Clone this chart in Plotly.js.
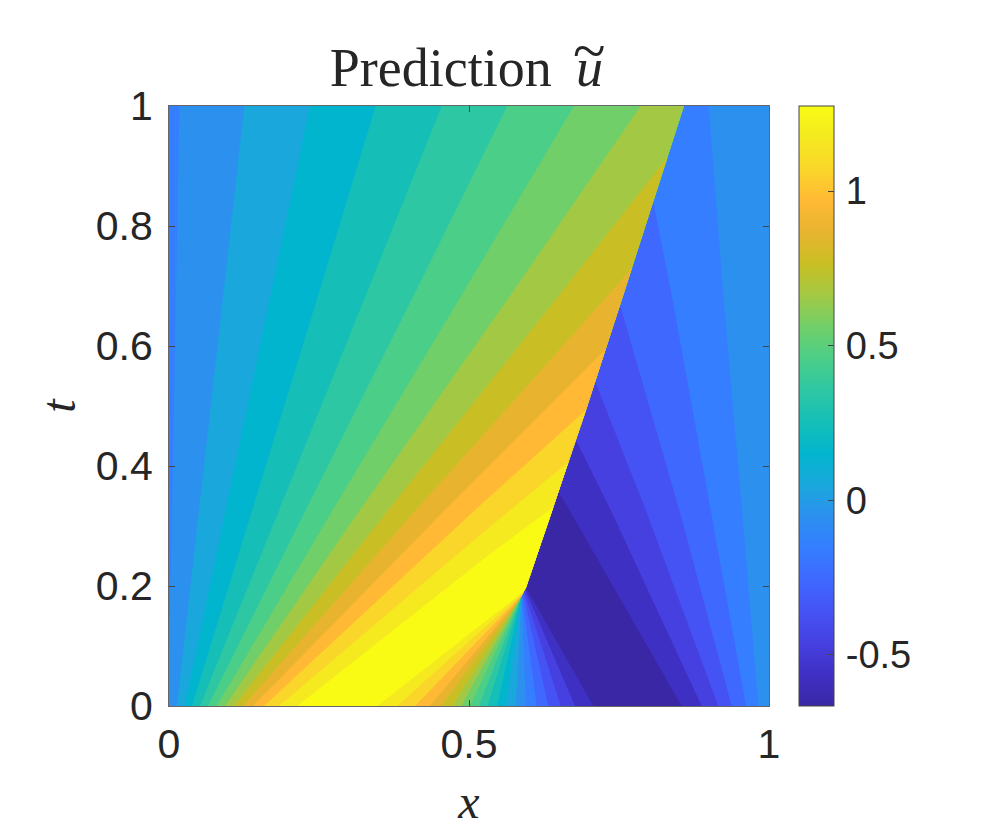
<!DOCTYPE html>
<html><head><meta charset="utf-8">
<script src="https://cdn.plot.ly/plotly-3.0.1.min.js"></script>
<style>html,body{margin:0;padding:0;background:#fff}</style></head>
<body><div id="chart" style="width:997px;height:832px"></div>
<script>
// Band values, ascending (contour levels of the prediction) and their colours
const bandLevels = [-0.616,-0.519,-0.422,-0.325,-0.228,-0.131,-0.034,0.063,0.16,0.257,0.354,0.451,0.548,0.645,0.742,0.839,0.936,1.033,1.13,1.227];
const bandColors = ['#3A27A6','#3F30C4','#4640E0','#4553F5','#3F68FF','#347EFF','#2C90EF','#1AA8DC','#02B5CE','#15BFB7','#2EC7A4','#4BCE88','#70CF69','#A3C944','#C9BF24','#E8B430','#FFB934','#FAD62A','#F5E91F','#F9FB15'];
const levelRange = [-0.665, 1.275];

// Shock curve from the top of the plot down to the fan apex: [x, t]
const shock = [[0.8583,1],[0.76,0.6933],[0.695,0.4933],[0.635,0.315],[0.595,0.1975],[0.5867,0.1817]];

// Contours left of the shock (boundary between band k and k+1), bottom to top; null where absent
const leftRays = [null,null,null,null,null,
 [[0,0.0933],[0.005,0.3267],[0.0117,0.685],[0.0172,1]],
 [[0.0133,0],[0.0505,0.3267],[0.0905,0.685],[0.1255,1]],
 [[0.0262,0],[0.0945,0.3267],[0.1695,0.685],[0.235,1]],
 [[0.0383,0],[0.1388,0.3267],[0.2488,0.685],[0.3445,1]],
 [[0.0517,0],[0.1838,0.3267],[0.3283,0.685],[0.4545,1]],
 [[0.065,0],[0.2278,0.3267],[0.4083,0.685],[0.5638,1]],
 [[0.0795,0],[0.2728,0.3267],[0.4878,0.685],[0.675,1]],
 [[0.0933,0],[0.3183,0.3267],[0.5695,0.685],[0.7862,1]],
 [[0.1083,0],[0.3655,0.3267],[0.6505,0.685],[0.8312,0.9155]],
 [[0.1233,0],[0.4117,0.3267],[0.7322,0.685],[0.7717,0.73]],
 [[0.14,0],[0.46,0.3267],[0.7278,0.5945]],
 [[0.1583,0],[0.51,0.3267],[0.695,0.4933]],
 [[0.1833,0],[0.5183,0.285],[0.666,0.4072]],
 [[0.2138,0],[0.5183,0.2405],[0.6407,0.3317]]];

// Fan contours below the apex: x where each meets t=0, and its [x,t] end on the shock
const fanBottom = [0.7072,0.6767,0.6528,0.6322,0.6128,0.595,0.5783,0.5617,0.5467,0.5308,0.5167,0.5017,0.4867,0.4717,0.4533,0.435,0.41,0.38,0.3472];
const fanEnd = [[0.595,0.1975],[0.5933,0.195],[0.5917,0.1917],[0.59,0.1883],[0.5883,0.185],[0.5875,0.1833],
 [0.5872,0.1825],[0.5872,0.1825],[0.5872,0.1825],[0.5872,0.1825],[0.5872,0.1825],[0.5872,0.1825],[0.5872,0.1825],[0.5872,0.1825],[0.5872,0.1825],[0.5872,0.1825],
 [0.5883,0.185],[0.5892,0.1875],[0.5905,0.1905]];

// Contours right of the shock, top to bottom
const rightRays = [
 [[0.6492,0.3572],[0.6672,0.3267],[0.8545,0]],
 [[0.6782,0.4433],[0.7362,0.3267],[0.8878,0]],
 [[0.7103,0.5405],[0.7945,0.3267],[0.9155,0]],
 [[0.7518,0.6683],[0.8505,0.3267],[0.9378,0]],
 [[0.8072,0.8405],[0.8378,0.685],[0.9028,0.3267],[0.9617,0]],
 [[0.8995,1],[0.9238,0.685],[0.955,0.3267],[0.9822,0]]];

const xTicks = [0,0.5,1];
const tTicks = [0,0.2,0.4,0.6,0.8,1];
const barTicks = [-0.5,0,0.5,1];

function shockBetween(tHigh, tLow){ return shock.filter(p => p[1] < tHigh && p[1] > tLow); }

function leftRegion(k){
  const ray = leftRays[k], end = fanEnd[k];
  let pts = [];
  if (!ray) pts.push([0,0],[0,1],shock[0]);
  else {
    if (ray[0][1] > 0) pts.push([0,0]);
    pts.push(...ray);
    if (ray[ray.length-1][1] >= 1) pts.push(shock[0]);
  }
  const topT = pts[pts.length-1][1];
  pts.push(...shockBetween(topT, end[1]), end, [fanBottom[k],0]);
  return pts;
}
function rightRegion(k){
  const ray = rightRays[k];
  if (!ray) return null;
  const pts = [...ray, [1,0], [1,1]];
  if (ray[0][1] < 1) pts.push(shock[0], ...shockBetween(1, ray[0][1]));
  return pts;
}
function poly(pts, color){
  return {type:'scatter', mode:'lines', x:pts.map(p=>p[0]), y:pts.map(p=>p[1]),
    fill:'toself', fillcolor:color, line:{width:0, color:color}, hoverinfo:'skip', showlegend:false};
}

const traces = [poly([[0,0],[1,0],[1,1],[0,1]], bandColors[0])];
for (let k = 0; k < fanBottom.length; k++){
  traces.push(poly(leftRegion(k), bandColors[k+1]));
  const r = rightRegion(k);
  if (r) traces.push(poly(r, bandColors[k+1]));
}
const cscale = bandColors.map((c,i)=>[i/(bandColors.length-1), c]);
traces.push({type:'scatter', mode:'markers', x:bandLevels.map(()=>0.5), y:bandLevels.map(()=>0.5),
  hoverinfo:'skip', showlegend:false,
  marker:{size:1, opacity:0, color:bandLevels, cmin:levelRange[0], cmax:levelRange[1], colorscale:cscale,
    showscale:true,
    colorbar:{x:1.05, xanchor:'left', xpad:0, y:0.5, yanchor:'middle', ypad:0, len:1, lenmode:'fraction',
      thickness:35, thicknessmode:'pixels', outlinecolor:'#444', outlinewidth:1,
      tickmode:'array', tickvals:barTicks, ticktext:barTicks.map(v=>'\u200a'+v), ticks:'inside', ticklen:6, tickcolor:'#444',
      tickfont:{family:'Liberation Sans', size:38, color:'#262626'}}}});

const ax = {range:[0,1], showgrid:false, zeroline:false, showline:true, linecolor:'#666', linewidth:1,
  mirror:'ticks', ticks:'inside', ticklen:6, tickcolor:'#444', tickwidth:1,
  tickfont:{family:'Liberation Sans', size:41, color:'#262626'}};
const layout = {
  width:997, height:832, margin:{l:169,r:228,t:106,b:126}, paper_bgcolor:'#fff', plot_bgcolor:'#fff',
  title:{text:'Prediction\u2009 <i>u</i>', font:{family:'Liberation Serif', size:54, color:'#262626'},
    x:0.4958, xanchor:'center', xref:'paper', y:0.8964, yanchor:'bottom', yref:'container'},
  xaxis:Object.assign({}, ax, {tickmode:'array', tickvals:xTicks, ticktext:xTicks.map(String), ticklabelstandoff:2,
    title:{text:'<i>x</i>', font:{family:'Liberation Serif', size:48, color:'#262626'}, standoff:18}}),
  yaxis:Object.assign({}, ax, {tickmode:'array', tickvals:tTicks, ticktext:tTicks.map(String), ticklabelstandoff:7,
    title:{text:'<i>t</i>', font:{family:'Liberation Serif', size:48, color:'#262626'}, standoff:4}}),
  annotations:[{text:'~', xref:'paper', yref:'paper', x:0.7,  y:1.033, xanchor:'center', yanchor:'bottom', showarrow:false,
    font:{family:'Liberation Serif', size:60, color:'#262626'}}]
};
Plotly.newPlot('chart', traces, layout, {displayModeBar:false, staticPlot:true});
</script></body></html>
